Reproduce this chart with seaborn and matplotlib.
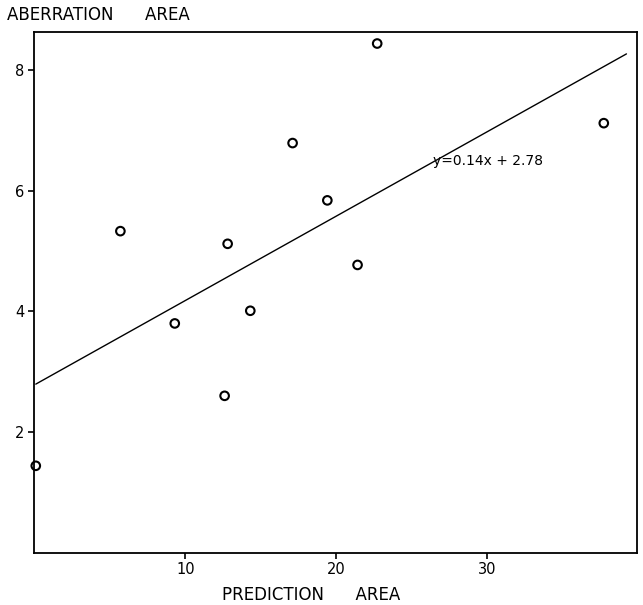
import numpy as np
import pandas as pd
import matplotlib
matplotlib.use("Agg")
import matplotlib.pyplot as plt
import seaborn as sns

# values
prediction_area = [0.1, 5.7, 9.3, 12.6, 12.8, 14.3, 17.1, 19.4, 21.4, 22.7, 37.7]
aberration_area = [1.44, 5.33, 3.80, 2.60, 5.12, 4.01, 6.79, 5.84, 4.77, 8.44, 7.12]
slope = 0.14
intercept = 2.78
fit_range = [0.1, 39.2]
x_ticks = [10, 20, 30]
y_ticks = [2, 4, 6, 8]

df = pd.DataFrame({"pred": prediction_area, "aber": aberration_area})

sns.set_style("ticks", {"text.color": "black", "xtick.color": "black",
                        "ytick.color": "black", "axes.edgecolor": "black"})
plt.rcParams['font.family'] = ['DejaVu Sans']

fig = plt.figure(figsize=(6.43, 6.05), dpi=100)
ax = fig.add_axes([0.0533, 0.0865, 0.9374, 0.8605])

fx = np.array(fit_range)
ax.plot(fx, slope * fx + intercept, color="black", lw=1.0, zorder=1)

sns.scatterplot(data=df, x="pred", y="aber", ax=ax, marker="o", s=38,
                facecolors="none", edgecolor="black", linewidth=1.5,
                zorder=3, clip_on=False)

ax.text(26.4, 6.49, "y=0.14x + 2.78", fontsize=10, va="center", ha="left",
        color="black")

ax.set_xlim(0, 39.9)
ax.set_ylim(0, 8.63)
ax.set_xticks(x_ticks)
ax.set_yticks(y_ticks)
ax.tick_params(direction="out", length=4, width=1.2, labelsize=10.5, pad=3,
               colors="black")
for sp in ax.spines.values():
    sp.set_linewidth(1.3)
    sp.set_color("black")

ax.set_xlabel("")
ax.set_ylabel("")
fig.text(0.011, 0.975, "ABERRATION      AREA", fontsize=12, ha="left",
         va="center", color="black")
fig.text(0.484, 0.017, "PREDICTION      AREA", fontsize=12, ha="center",
         va="center", color="black")

plt.savefig("out.png", dpi=100)
